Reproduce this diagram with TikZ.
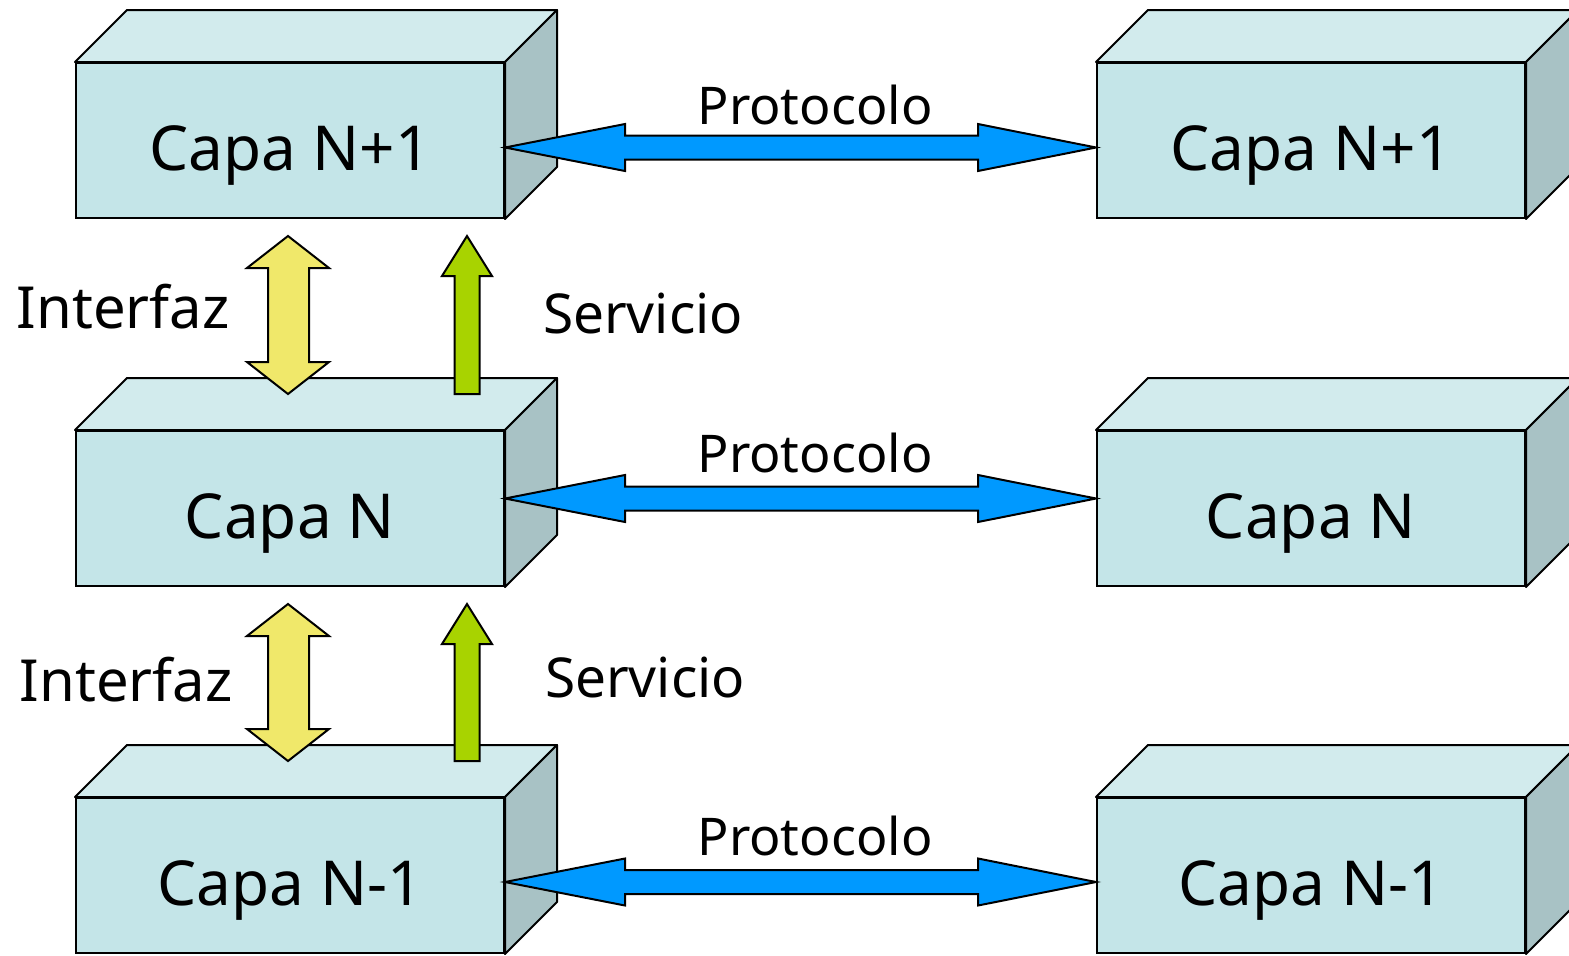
\documentclass[tikz,border=0pt]{standalone}
\usepackage{fontspec}
\setmainfont{Noto Sans}
\usetikzlibrary{calc}
\definecolor{frontc}{HTML}{C4E5E8}
\definecolor{topc}{HTML}{D2EBED}
\definecolor{sidec}{HTML}{A8C2C5}
\definecolor{bluec}{HTML}{0099FF}
\definecolor{yellowc}{HTML}{F0E86A}
\definecolor{greenc}{HTML}{A8D300}
\newcommand{\layerfaces}[1]{%
  \draw[face, fill=topc] (#1.north west) -- ++(52,-52) -- ($(#1.north east)+(52,-52)$) -- (#1.north east) -- cycle;
  \draw[face, fill=sidec] (#1.north east) -- ++(52,-52) -- ($(#1.south east)+(52,-52)$) -- (#1.south east) -- cycle;}
\newcommand{\protoarrow}[2]{%
  \draw[bluearrow] (#1) -- ++(120,-23.5) -- ++(0,11.5) -- ($(#2)+(-118,-12)$) -- ++(0,-11.5) -- (#2)
    -- ++(-118,23.5) -- ++(0,-11.5) -- ($(#1)+(120,12)$) -- ++(0,11.5) -- cycle;}
\newcommand{\ifarrow}[2]{%
  \draw[yellowarrow] (#1) -- ++(41,32) -- ++(-20,0) -- ($(#2)+(21,-32)$) -- ++(20,0) -- (#2)
    -- ++(-41,-32) -- ++(21,0) -- ($(#1)+(-20,32)$) -- ++(-21,0) -- cycle;}
\newcommand{\servarrow}[2]{%
  \draw[greenarrow] (#1) -- ++(25,40) -- ++(-12.5,0) -- ($(#2)+(12.5,0)$)
    -- ++(-25,0) -- ($(#1)+(-12.5,40)$) -- ++(-12.5,0) -- cycle;}
\begin{document}
\begin{tikzpicture}[x=0.5pt,y=-0.5pt,
  front/.style={draw=black, line width=1pt, fill=frontc, minimum width=214pt, minimum height=77.5pt,
    inner sep=0pt, text height=29.5pt, text depth=0pt, font=\fontsize{31}{37}\selectfont},
  face/.style={draw=black, line width=1pt, line join=round},
  lbl/.style={font=\fontsize{26}{31}\selectfont, inner sep=0pt},
  bluearrow/.style={draw=black, line width=1pt, fill=bluec},
  yellowarrow/.style={draw=black, line width=1pt, fill=yellowc},
  greenarrow/.style={draw=black, line width=1pt, fill=greenc}]
\useasboundingbox (0,0) rectangle (1569,955);
\clip (0,0) rectangle (1569,955);
% boxes
\node[front] (L1) at (290,140.5) {Capa N+1};
\node[front] (R1) at (1311,140.5) {Capa N+1};
\node[front] (L2) at (290,508.5) {Capa N};
\node[front] (R2) at (1311,508.5) {Capa N};
\node[front] (L3) at (290,875.5) {Capa N-1};
\node[front] (R3) at (1311,875.5) {Capa N-1};
\layerfaces{L1}\layerfaces{R1}
\layerfaces{L2}\layerfaces{R2}
\layerfaces{L3}\layerfaces{R3}
% protocol arrows
\coordinate (a1) at ($(L1.east)+(0,7)$);
\coordinate (b1) at ($(R1.west)+(0,7)$);
\coordinate (a2) at ($(L2.east)+(0,-10)$);
\coordinate (b2) at ($(R2.west)+(0,-10)$);
\coordinate (a3) at ($(L3.east)+(0,6.5)$);
\coordinate (b3) at ($(R3.west)+(0,6.5)$);
\protoarrow{a1}{b1}
\protoarrow{a2}{b2}
\protoarrow{a3}{b3}
% interface arrows
\coordinate (i1t) at ($(L1.south west)+(213,17)$);
\coordinate (i1b) at ($(L2.north west)+(213,-36)$);
\coordinate (i2t) at ($(L2.south west)+(213,17)$);
\coordinate (i2b) at ($(L3.north west)+(213,-36)$);
\ifarrow{i1t}{i1b}
\ifarrow{i2t}{i2b}
% service arrows
\coordinate (s1t) at ($(L1.south west)+(392,17)$);
\coordinate (s1b) at ($(L2.north west)+(392,-36)$);
\coordinate (s2t) at ($(L2.south west)+(392,17)$);
\coordinate (s2b) at ($(L3.north west)+(392,-36)$);
\servarrow{s1t}{s1b}
\servarrow{s2t}{s2b}
% labels
\node[lbl] (p1) at (815,105) {Protocolo};
\node[lbl] (p2) at (815,453) {Protocolo};
\node[lbl] (p3) at (815,836) {Protocolo};
\node[lbl, font=\fontsize{29}{35}\selectfont] (if1) at (123,307) {Interfaz};
\node[lbl, font=\fontsize{29}{35}\selectfont] (if2) at (126,680) {Interfaz};
\node[lbl, font=\fontsize{27.5}{33}\selectfont] (sv1) at (643,313) {Servicio};
\node[lbl, font=\fontsize{27.5}{33}\selectfont] (sv2) at (645,677) {Servicio};
\end{tikzpicture}
\end{document}
